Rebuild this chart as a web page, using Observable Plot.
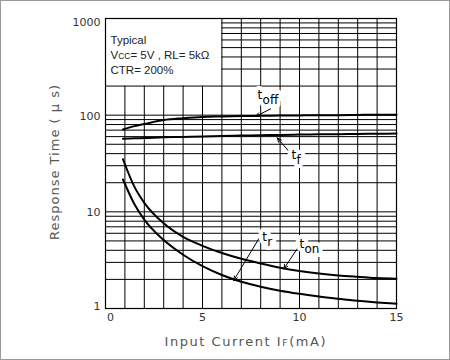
<!DOCTYPE html>
<html><head><meta charset="utf-8">
<script src="https://cdn.jsdelivr.net/npm/d3@7"></script>
<script src="https://cdn.jsdelivr.net/npm/@observablehq/plot@0.6"></script>
<style>
body{margin:0;background:#fff}
#chart svg{display:block;outline:1px solid #9a9a9a;outline-offset:-1px}
</style></head><body><div id="chart"></div>
<script>
// Data
const currents = [0.9, 1.5, 2, 3, 4, 5, 6, 7, 8, 9, 10, 11, 12, 13, 14, 15];
const tOff = [71, 77, 81, 89, 93, 96, 97, 98, 98.5, 99, 99.5, 100, 100, 100.5, 101, 101];
const tF   = [57, 57.7, 58, 59, 59.5, 60, 61, 61.5, 62, 62.5, 63, 63.3, 63.6, 64, 64.3, 64.5];
const tOn  = [35, 18, 12.4, 7.6, 5.5, 4.45, 3.75, 3.27, 2.92, 2.64, 2.44, 2.3, 2.2, 2.13, 2.07, 2.03];
const tR   = [21.6, 11.9, 8.3, 5.1, 3.6, 2.74, 2.22, 1.89, 1.68, 1.53, 1.42, 1.33, 1.26, 1.2, 1.155, 1.12];
const seriesNames = ["toff", "tf", "ton", "tr"];
const seriesValues = [tOff, tF, tOn, tR];

// Curve labels (t + subscript) and their pointer arrows, in data units
const labelMain = ["t", "t", "t", "t"];
const labelSub = ["off", "f", "on", "r"];
const labelI = [7.84, 9.59, 10.0, 8.08];
const labelT = [148, 35.6, 4.18, 5.05];
const arrowFromI = [8.51, 9.5, 9.88, 7.9];
const arrowFromT = [116, 41.3, 4.14, 5.26];
const arrowToI = [7.73, 8.85, 9.19, 6.61];
const arrowToT = [97, 58.2, 2.57, 1.95];

// Axes, grid and notes
const xDomain = [0, 15];
const yDomain = [1, 1000];
const xTicks = [0, 5, 10, 15];
const yTicks = [1, 10, 100, 1000];
const gridCurrents = [1, 2, 3, 4, 5, 6, 7, 8, 9, 10, 11, 12, 13, 14];
const gridTimes = [2, 3, 4, 5, 6, 7, 8, 9, 10, 20, 30, 40, 50, 60, 70, 80, 90, 100, 200, 300, 400, 500, 600, 700, 800, 900];
const boxCornerI = 6, boxCornerT = 200;
const boxLines = ["Typical", "VCC= 5V , RL= 5kΩ", "CTR= 200%"];
const xTitleParts = ["Input Current I", "F", "(mA)"];
const yTitle = "Response Time ( μ s)";

const rows = [];
seriesNames.forEach((s, k) => currents.forEach((c, i) => rows.push({series: s, I: c, T: seriesValues[k][i]})));
const labels = labelMain.map((m, i) => ({main: m, sub: labelSub[i], I: labelI[i], T: labelT[i],
  I1: arrowFromI[i], T1: arrowFromT[i], I2: arrowToI[i], T2: arrowToT[i]}));

const tickOpts = {fontSize: 11, tickSize: 0, tickPadding: 5, label: null, tickFormat: d => String(d)};

const svg = Plot.plot({
  width: 450, height: 360,
  marginLeft: 105, marginRight: 54, marginTop: 18, marginBottom: 52,
  style: {fontFamily: "DejaVu Sans", fontSize: "11px", color: "#333", background: "white"},
  x: {domain: xDomain},
  y: {type: "log", domain: yDomain},
  marks: [
    Plot.ruleX(gridCurrents, {x: d => d, y1: () => 1, y2: d => d < boxCornerI ? boxCornerT : 1000, stroke: "black", strokeWidth: 1}),
    Plot.ruleY(gridTimes, {y: d => d, x1: d => d > boxCornerT ? boxCornerI : 0, x2: () => 15, stroke: "black", strokeWidth: 1}),
    Plot.frame({stroke: "black", strokeWidth: 1.2}),
    Plot.line(rows, {x: "I", y: "T", z: "series", curve: "monotone-x", stroke: "black", strokeWidth: 2}),
    Plot.arrow(labels, {x1: "I1", y1: "T1", x2: "I2", y2: "T2", stroke: "black", strokeWidth: 1, headLength: 7, headAngle: 45}),
    Plot.text(labels, {x: "I", y: "T", text: "main", textAnchor: "start", lineAnchor: "bottom", fontSize: 12, fill: "white", stroke: "white", strokeWidth: 8}),
    Plot.text(labels, {x: "I", y: "T", text: "sub", textAnchor: "start", lineAnchor: "bottom", dx: 5, dy: 5, fontSize: 12, fill: "white", stroke: "white", strokeWidth: 8}),
    Plot.text(labels, {x: "I", y: "T", text: "main", textAnchor: "start", lineAnchor: "bottom", fontSize: 12, fill: "black"}),
    Plot.text(labels, {x: "I", y: "T", text: "sub", textAnchor: "start", lineAnchor: "bottom", dx: 5, dy: 5, fontSize: 12, fill: "black"}),
    Plot.text([boxLines.join("\n")], {frameAnchor: "top-left", lineAnchor: "top", textAnchor: "start", dx: 5, dy: 15, lineHeight: 1.3, fontFamily: "Liberation Sans", fontSize: 11.5, fill: "#222"}),
    Plot.axisX(xTicks.slice(1), {...tickOpts}),
    Plot.axisX(xTicks.slice(0, 1), {...tickOpts, dx: 5}),
    Plot.axisY(yTicks.slice(1, 3), {...tickOpts, dy: 1}),
    Plot.axisY(yTicks.slice(3), {...tickOpts, dy: 4}),
    Plot.axisY(yTicks.slice(0, 1), {...tickOpts, dy: -2}),
    Plot.text([xTitleParts.join("")], {frameAnchor: "bottom", textAnchor: "middle", lineAnchor: "bottom", dy: 37, dx: -6, fontSize: 13, fill: "#555"}),
    Plot.text([yTitle], {frameAnchor: "left", textAnchor: "middle", lineAnchor: "bottom", rotate: -90, dx: -47, dy: -1, fontSize: 13, fill: "#555"})
  ]
});
document.getElementById("chart").appendChild(svg);

// Rich text: small capitals in "VCC" and "IF", spaced-out axis titles
const s = d3.select(svg);
s.selectAll("tspan").filter(function() { return this.textContent === boxLines[1]; }).each(function() {
  const t = d3.select(this);
  t.text("");
  t.append("tspan").text("V");
  t.append("tspan").attr("font-size", 8.5).text("CC");
  t.append("tspan").text(boxLines[1].slice(3));
});
s.selectAll("text").filter(function() { return this.textContent === xTitleParts.join(""); }).each(function() {
  const xt = d3.select(this).attr("textLength", 161).attr("lengthAdjust", "spacing");
  xt.text("");
  xt.append("tspan").text(xTitleParts[0]);
  xt.append("tspan").attr("font-size", 9.5).text(xTitleParts[1]);
  xt.append("tspan").text(xTitleParts[2]);
});
s.selectAll("text").filter(function() { return this.textContent === yTitle; })
  .attr("textLength", 155).attr("lengthAdjust", "spacing");
</script></body></html>
